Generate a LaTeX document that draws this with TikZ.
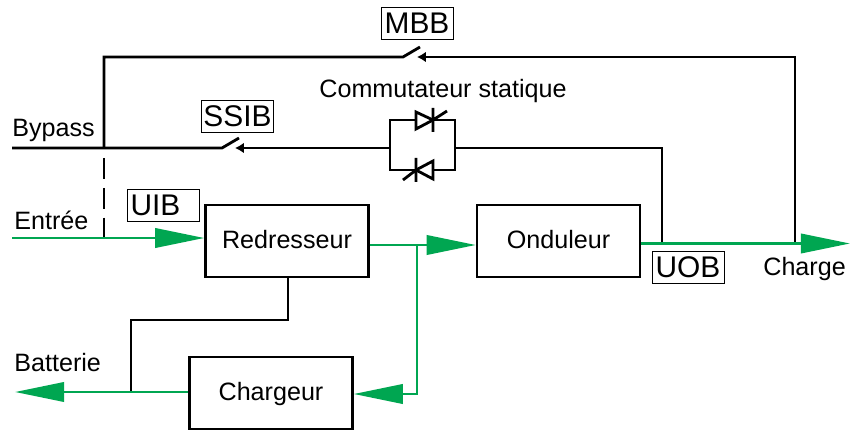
\documentclass[tikz,border=0pt]{standalone}
\usepackage{fontspec}
\setmainfont{Liberation Sans}
\usetikzlibrary{arrows.meta,calc}
\definecolor{vert}{RGB}{0,166,81}
\tikzset{
  bloc/.style={draw,line width=1.4pt,minimum width=3.26cm,minimum height=1.44cm,text height=10.5pt,text depth=2pt,font=\fontsize{14.3}{16}\selectfont},
  repere/.style={draw,line width=0.45pt,minimum width=1.44cm,minimum height=0.64cm,inner sep=0pt,font=\fontsize{17}{18}\selectfont},
  texte/.style={inner sep=0pt,font=\fontsize{14.3}{16}\selectfont},
  noir/.style={line width=1.6pt},
  puissance/.style={vert,line width=1.6pt},
  fleche/.style={puissance,-{Triangle[length=28pt,width=11pt]}},
  contact/.style={noir,{Latex[length=5pt,width=6pt]}-}
}
\begin{document}
\begin{tikzpicture}[x=0.02cm,y=-0.02cm]
  \useasboundingbox (0,0) rectangle (858,432);
  % blocs
  \node[bloc] (redresseur) at (287,241) {Redresseur};
  \node[bloc] (onduleur) at (558.5,241) {Onduleur};
  \node[bloc] (chargeur) at (271,393) {Chargeur};
  % reperes
  \node[repere] (mbb) at (417,23) {MBB};
  \node[repere] (ssib) at (237.5,116) {SSIB};
  \node[repere,text width=1.3cm,align=left] (uib) at (163,205.5) {UIB};
  \node[repere] (uob) at (688,267.5) {UOB};
  % textes
  \node[texte,anchor=west] (bypass) at (12,130) {Bypass};
  \node[texte,anchor=west] (entree) at (14,220) {Entrée};
  \node[texte,anchor=west] (batterie) at (14,363) {Batterie};
  \node[texte,anchor=west] (charge) at (763,269) {Charge};
  \node[texte] (statique) at (443,91) {Commutateur statique};
  % points de passage
  \coordinate (bypassG) at (12,148);
  \coordinate (entreeG) at (12,238);
  \coordinate (batterieG) at (15,392);
  \coordinate (chargeD) at (850,243.5);
  \coordinate (piquage) at (104,148);
  \coordinate (piquageB) at (104,238);
  \coordinate (mbbG) at (403,57);
  \coordinate (mbbD) at (417,57);
  \coordinate (ssibG) at (222,148);
  \coordinate (ssibD) at (235,148);
  \coordinate (thyG) at (390,148);
  \coordinate (thyD) at (455,148);
  \coordinate (sortieA) at (662,243.5);
  \coordinate (sortieB) at (795,243.5);
  \coordinate (split) at (417,245);
  \coordinate (batt) at (131,392);
  % ligne MBB et bypass
  \draw[noir] (piquage) -- (104,57) -- (mbbG) -- ++(17,-10);
  \draw[contact] (mbbD) -- (795,57) -- (sortieB);
  \draw[noir,dash pattern=on 12pt off 5pt] (104,158) -- (piquageB);
  \draw[noir] (bypassG) -- (ssibG) -- ++(17,-10);
  \draw[contact] (ssibD) -- (thyG);
  \draw[noir] (thyD) -- (662,148) -- (sortieA);
  % commutateur statique
  \draw[noir] (thyG) |- (416,120) (433,120) -| (thyD) |- (433,170) (416,170) -| (thyG);
  \draw[noir,line join=miter] (416,112) -- (433,120) -- (416,129) -- cycle;
  \draw[noir] (433,108) -- (433,132) (433,120) -- (447,111);
  \draw[noir,line join=miter] (433,161) -- (416,170) -- (433,179) -- cycle;
  \draw[noir] (416,158) -- (416,182) (416,170) -- (403,180);
  % liaison chargeur
  \draw[noir] (288,277) -- (288,320) -- (131,320) -- (batt);
  % puissance
  \draw[fleche] (entreeG) -- (entreeG -| redresseur.west);
  \draw[puissance] (redresseur.east |- split) -- (split);
  \draw[fleche] (split) -- (split -| onduleur.west);
  \draw[fleche] (split) -- (417,394) -- (chargeur.east |- 417,394);
  \draw[fleche] (chargeur.west |- batterieG) -- (batterieG);
  \draw[fleche] (onduleur.east |- chargeD) -- (chargeD);
\end{tikzpicture}
\end{document}
